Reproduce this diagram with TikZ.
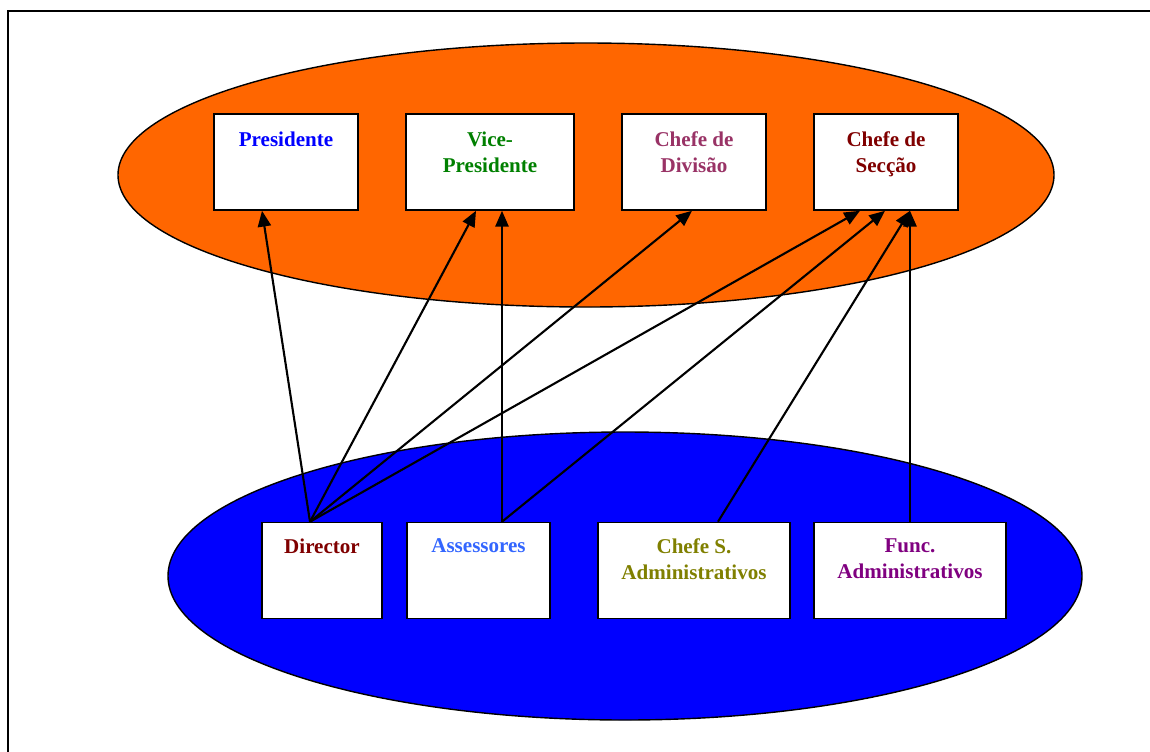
\documentclass[tikz,border=0pt]{standalone}
\usepackage{fontspec}
\setmainfont{Liberation Serif}
\usetikzlibrary{arrows.meta}

\definecolor{upperorange}{HTML}{FF6600}
\definecolor{lowerblue}{HTML}{0000FF}
\definecolor{presblue}{HTML}{0000FF}
\definecolor{vicegreen}{HTML}{008000}
\definecolor{divplum}{HTML}{993366}
\definecolor{darkred}{HTML}{800000}
\definecolor{assblue}{HTML}{3366FF}
\definecolor{olive}{HTML}{808000}
\definecolor{funcpurple}{HTML}{800080}

\newcommand{\pxu}{0.57pt}

\begin{document}
\begin{tikzpicture}[x=0.57pt, y=-0.57pt,
    post/.style={draw=black, line width=0.9pt, fill=white, inner sep=0pt,
      minimum height=96*\pxu},
    lbl/.style={font=\bfseries\fontsize{12}{14.8}\selectfont, align=center,
      inner sep=0pt, anchor=north},
    link/.style={line width=1.2pt, -{Triangle[length=9pt, width=7.5pt]}}]
  \useasboundingbox (0,0) rectangle (1150,751);
  % Page frame.
  \draw[line width=1.2pt] (8,11) rectangle (1200,800);
  % The two groups.
  \draw[fill=upperorange, line width=0.8pt] (586,175) ellipse [x radius=468, y radius=132];
  \draw[fill=lowerblue, line width=0.8pt] (625,576) ellipse [x radius=457, y radius=144];
  % Upper posts.
  \node[post, minimum width=144*\pxu] (pres) at (286,162) {};
  \node[post, minimum width=168*\pxu] (vice) at (490,162) {};
  \node[post, minimum width=144*\pxu] (div) at (694,162) {};
  \node[post, minimum width=144*\pxu] (sec) at (886,162) {};
  \node[lbl, text=presblue] (presT) at ([yshift=-18*\pxu]pres.north) {Presidente};
  \node[lbl, text=vicegreen] (viceT) at ([yshift=-18*\pxu]vice.north) {Vice-\\Presidente};
  \node[lbl, text=divplum] (divT) at ([yshift=-18*\pxu]div.north) {Chefe de\\Divisão};
  \node[lbl, text=darkred] (secT) at ([yshift=-18*\pxu]sec.north) {Chefe de\\Secção};
  % Lower posts.
  \node[post, minimum width=120*\pxu] (dir) at (322,570.5) {};
  \node[post, minimum width=143*\pxu] (ass) at (478.5,570.5) {};
  \node[post, minimum width=192*\pxu] (chs) at (694,570.5) {};
  \node[post, minimum width=192*\pxu] (func) at (910,570.5) {};
  \node[lbl, text=darkred] (dirT) at ([yshift=-17*\pxu]dir.north) {Director};
  \node[lbl, text=assblue] (assT) at ([yshift=-17*\pxu]ass.north) {Assessores};
  \node[lbl, text=olive] (chsT) at ([yshift=-17*\pxu]chs.north) {Chefe S.\\Administrativos};
  \node[lbl, text=funcpurple] (funcT) at ([yshift=-17*\pxu]func.north) {Func.\\Administrativos};
  % Links.
  \draw[link] ([xshift=-12*\pxu]dir.north) -- ([xshift=-24*\pxu]pres.south);
  \draw[link] ([xshift=-12*\pxu]dir.north) -- ([xshift=-14*\pxu]vice.south);
  \draw[link] ([xshift=-12*\pxu]dir.north) -- ([xshift=-2*\pxu]div.south);
  \draw[link] ([xshift=-12*\pxu]dir.north) -- ([xshift=-26*\pxu]sec.south);
  \draw[link] ([xshift=23.5*\pxu]ass.north) -- ([xshift=12*\pxu]vice.south);
  \draw[link] ([xshift=23.5*\pxu]ass.north) -- ([xshift=-1*\pxu]sec.south);
  \draw[link] ([xshift=24*\pxu]chs.north) -- ([xshift=24*\pxu]sec.south);
  \draw[link] (func.north) -- ([xshift=24*\pxu]sec.south);
\end{tikzpicture}
\end{document}
